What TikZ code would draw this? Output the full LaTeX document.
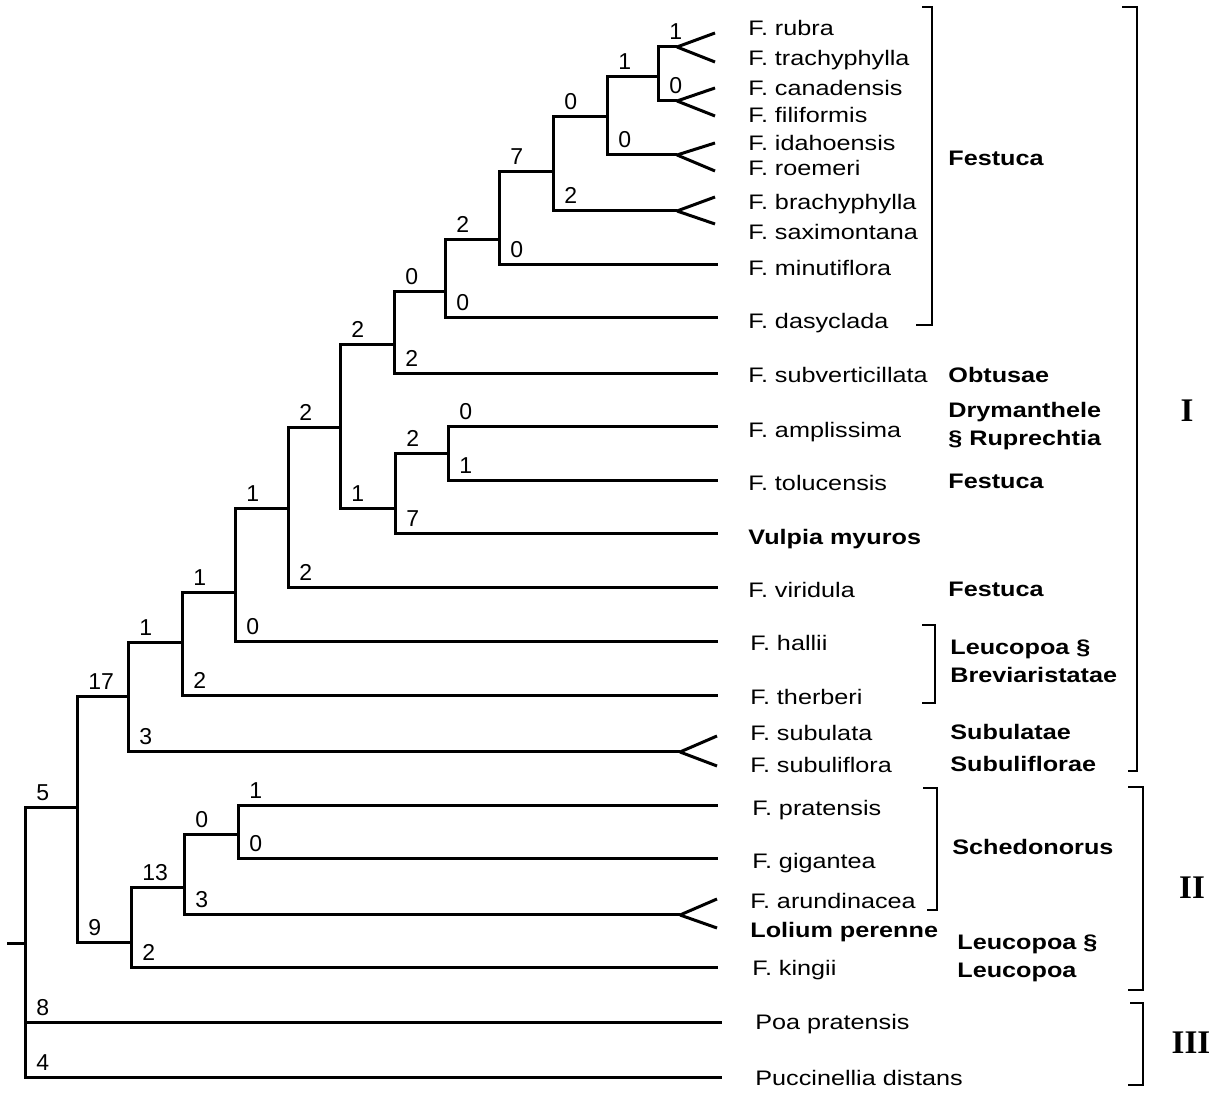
\documentclass[tikz,border=0pt]{standalone}
\usepackage{fontspec}
\setmainfont{Liberation Sans}[FakeStretch=1.2]
\newfontfamily\numfont{Liberation Sans}
\newfontfamily\cladefont{Liberation Serif}
\usetikzlibrary{positioning}
\newcommand{\branch}[3]{%
  \draw[edge] (#1) |- (#2);
  \node[num] (l-#2) at (#1 |- #2) {#3};}

\begin{document}
\begin{tikzpicture}[
    x=0.5pt, y=-0.5pt,
    edge/.style={line width=1.5pt, line join=miter},
    bracket/.style={line width=1.2pt},
    num/.style={anchor=south west, inner sep=0.5pt, xshift=5pt, yshift=3pt,
                font=\numfont\fontsize{11.5}{13}\selectfont},
    leaf/.style={anchor=base west, inner sep=0pt, yshift=-3.75pt,
                 font=\fontsize{10.5}{12}\selectfont},
    bleaf/.style={leaf, font=\fontsize{10.5}{12}\selectfont\bfseries},
    sect/.style={bleaf},
    sectpair/.style={anchor=west, inner sep=0pt, align=left,
                     font=\fontsize{10.5}{14}\selectfont\bfseries},
    clade/.style={font=\cladefont\fontsize{16.5}{18}\selectfont\bfseries},
  ]
  \useasboundingbox (0,0) rectangle (1222,1095);

  % Internal nodes of the tree
  \coordinate (stub) at (7,944);
  \coordinate (root) at (25,944);
  \coordinate (n5)  at (77,808);
  \coordinate (n17) at (128,697);
  \coordinate (n1a) at (182,643);
  \coordinate (n1b) at (235,593);
  \coordinate (n1c) at (288,509);
  \coordinate (n2a) at (340,428);
  \coordinate (n2b) at (394,345);
  \coordinate (n0a) at (445,292);
  \coordinate (n2c) at (499,240);
  \coordinate (n7)  at (553,172);
  \coordinate (n0b) at (607,117);
  \coordinate (n1e) at (658,77);
  \coordinate (n1d) at (395,509);
  \coordinate (n2d) at (448,454);
  \coordinate (n9)  at (131,943);
  \coordinate (n13) at (184,888);
  \coordinate (n0c) at (238,835);

  % Forks for paired leaves
  \coordinate (f-rubra)  at (677,47);
  \coordinate (f-canad)  at (677,101);
  \coordinate (f-idaho)  at (677,155);
  \coordinate (f-brachy) at (677,211);
  \coordinate (f-subul)  at (680,752);
  \coordinate (f-arund)  at (680,915);

  % Leaf tips
  \coordinate (t-rubra)    at (715,33);
  \coordinate (t-trachy)   at (715,62);
  \coordinate (t-canad)    at (715,88);
  \coordinate (t-filif)    at (715,116);
  \coordinate (t-idaho)    at (715,143);
  \coordinate (t-roem)     at (715,171);
  \coordinate (t-brachy)   at (715,197);
  \coordinate (t-saxi)     at (715,224);
  \coordinate (t-minuti)   at (718,265);
  \coordinate (t-dasy)     at (718,318);
  \coordinate (t-subvert)  at (718,374);
  \coordinate (t-ampl)     at (718,427);
  \coordinate (t-toluc)    at (718,481);
  \coordinate (t-vulpia)   at (718,534);
  \coordinate (t-viridula) at (718,588);
  \coordinate (t-hallii)   at (718,642);
  \coordinate (t-therberi) at (718,696);
  \coordinate (t-subulata) at (717,736);
  \coordinate (t-subulif)  at (717,766);
  \coordinate (t-prat)     at (718,806);
  \coordinate (t-gigan)    at (718,859);
  \coordinate (t-arund)    at (717,899);
  \coordinate (t-lolium)   at (717,928);
  \coordinate (t-kingii)   at (718,968);
  \coordinate (t-poa)      at (722,1023);
  \coordinate (t-pucc)     at (722,1078);

  % Branches
  \draw[edge] (stub) -- (root);
  \branch{root}{n5}{5}
  \branch{root}{t-poa}{8}
  \branch{root}{t-pucc}{4}
  \branch{n5}{n17}{17}
  \branch{n5}{n9}{9}
  \branch{n17}{n1a}{1}
  \branch{n17}{f-subul}{3}
  \branch{n1a}{n1b}{1}
  \branch{n1a}{t-therberi}{2}
  \branch{n1b}{n1c}{1}
  \branch{n1b}{t-hallii}{0}
  \branch{n1c}{n2a}{2}
  \branch{n1c}{t-viridula}{2}
  \branch{n2a}{n2b}{2}
  \branch{n2a}{n1d}{1}
  \branch{n2b}{n0a}{0}
  \branch{n2b}{t-subvert}{2}
  \branch{n0a}{n2c}{2}
  \branch{n0a}{t-dasy}{0}
  \branch{n2c}{n7}{7}
  \branch{n2c}{t-minuti}{0}
  \branch{n7}{n0b}{0}
  \branch{n7}{f-brachy}{2}
  \branch{n0b}{n1e}{1}
  \branch{n0b}{f-idaho}{0}
  \branch{n1e}{f-rubra}{1}
  \branch{n1e}{f-canad}{0}
  \branch{n1d}{n2d}{2}
  \branch{n1d}{t-vulpia}{7}
  \branch{n2d}{t-ampl}{0}
  \branch{n2d}{t-toluc}{1}
  \branch{n9}{n13}{13}
  \branch{n9}{t-kingii}{2}
  \branch{n13}{n0c}{0}
  \branch{n13}{f-arund}{3}
  \branch{n0c}{t-prat}{1}
  \branch{n0c}{t-gigan}{0}

  % Forks
  \draw[edge] (f-rubra) -- (t-rubra);
  \draw[edge] (f-rubra) -- (t-trachy);
  \draw[edge] (f-canad) -- (t-canad);
  \draw[edge] (f-canad) -- (t-filif);
  \draw[edge] (f-idaho) -- (t-idaho);
  \draw[edge] (f-idaho) -- (t-roem);
  \draw[edge] (f-brachy) -- (t-brachy);
  \draw[edge] (f-brachy) -- (t-saxi);
  \draw[edge] (f-subul) -- (t-subulata);
  \draw[edge] (f-subul) -- (t-subulif);
  \draw[edge] (f-arund) -- (t-arund);
  \draw[edge] (f-arund) -- (t-lolium);

  % Taxa
  \node[leaf] (rubra)    at (748,28)  {F. rubra};
  \node[leaf] (trachy)   at (748,58)  {F. trachyphylla};
  \node[leaf] (canad)    at (748,88)  {F. canadensis};
  \node[leaf] (filif)    at (748,115) {F. filiformis};
  \node[leaf] (idaho)    at (748,143) {F. idahoensis};
  \node[leaf] (roem)     at (748,168) {F. roemeri};
  \node[leaf] (brachy)   at (748,202) {F. brachyphylla};
  \node[leaf] (saxi)     at (748,232) {F. saximontana};
  \node[leaf] (minuti)   at (748,268) {F. minutiflora};
  \node[leaf] (dasy)     at (748,321) {F. dasyclada};
  \node[leaf] (subvert)  at (748,375) {F. subverticillata};
  \node[leaf] (ampl)     at (748,430) {F. amplissima};
  \node[leaf] (toluc)    at (748,483) {F. tolucensis};
  \node[bleaf] (vulpia)  at (748,537) {Vulpia myuros};
  \node[leaf] (viridula) at (748,590) {F. viridula};
  \node[leaf] (hallii)   at (750,643) {F. hallii};
  \node[leaf] (therberi) at (750,697) {F. therberi};
  \node[leaf] (subulata) at (750,733) {F. subulata};
  \node[leaf] (subulif)  at (750,765) {F. subuliflora};
  \node[leaf] (prat)     at (752,808) {F. pratensis};
  \node[leaf] (gigan)    at (752,861) {F. gigantea};
  \node[leaf] (arund)    at (750,901) {F. arundinacea};
  \node[bleaf] (lolium)  at (750,930) {Lolium perenne};
  \node[leaf] (kingii)   at (752,968) {F. kingii};
  \node[leaf] (poa)      at (755,1022) {Poa pratensis};
  \node[leaf] (pucc)     at (755,1078) {Puccinellia distans};

  % Sections
  \node[sect] (s-fest1)  at (948,158) {Festuca};
  \node[sect] (s-obtus)  at (948,375) {Obtusae};
  \node[sectpair] (s-drym) at (948,426) {Drymanthele\\§ Ruprechtia};
  \node[sect] (s-fest2)  at (948,481) {Festuca};
  \node[sect] (s-fest3)  at (948,589) {Festuca};
  \node[sectpair] (s-brev) at (950,661) {Leucopoa §\\Breviaristatae};
  \node[sect] (s-subul)  at (950,732) {Subulatae};
  \node[sect] (s-subfl)  at (950,764) {Subuliflorae};
  \node[sect] (s-sched)  at (952,847) {Schedonorus};
  \node[sectpair] (s-leuc) at (957,958) {Leucopoa §\\Leucopoa};

  % Brackets
  \draw[bracket] (922,7) -| (932,325) -- (916,325);
  \draw[bracket] (922,625) -| (935,703) -- (922,703);
  \draw[bracket] (923,788) -| (937,910) -- (927,910);
  \draw[bracket] (1122,7) -| (1137,771) -- (1128,771);
  \draw[bracket] (1128,787) -| (1143,990) -- (1128,990);
  \draw[bracket] (1130,1003) -| (1143,1085) -- (1128,1085);

  % Clades
  \node[clade] (c-one)   at (1187,411)  {I};
  \node[clade] (c-two)   at (1192,888)  {II};
  \node[clade] (c-three) at (1191,1043) {III};

\end{tikzpicture}
\end{document}
